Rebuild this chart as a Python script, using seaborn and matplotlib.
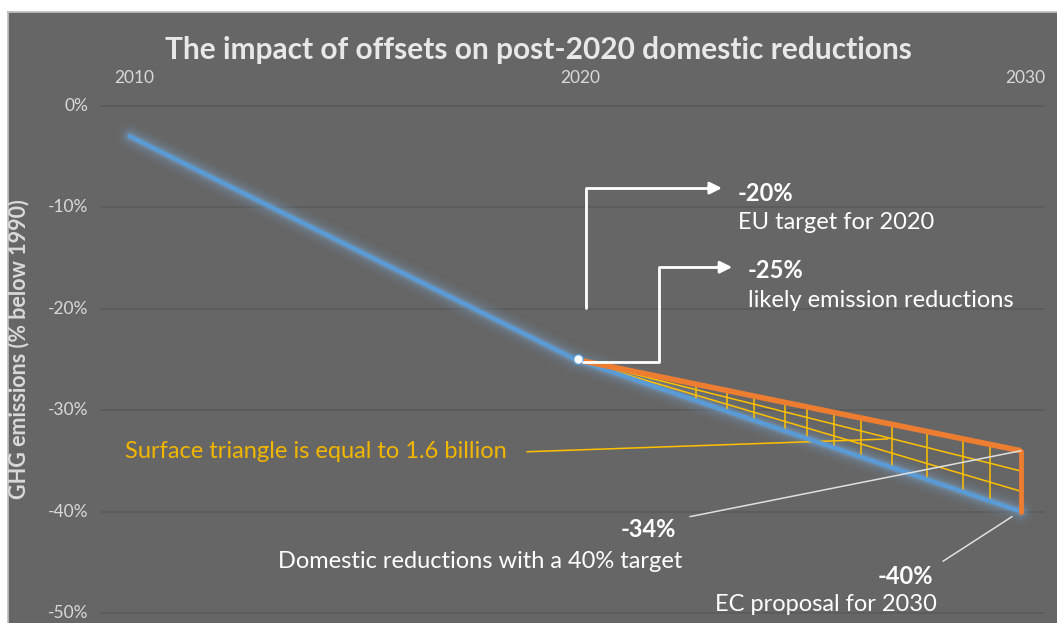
import matplotlib
matplotlib.use("Agg")
import matplotlib.pyplot as plt
import numpy as np
import pandas as pd
import seaborn as sns

# ---- data -------------------------------------------------------------
years = [2010, 2020, 2030]
emissions = [-3.0, -25.0, -40.0]          # GHG emissions, % below 1990
offset_years = [2020, 2030]
offset_path = [-25.0, -34.0]              # domestic reductions with offsets
y_ticks = [0, -10, -20, -30, -40, -50]
y_tick_labels = ["0%", "-10%", "-20%", "-30%", "-40%", "-50%"]
x_tick_labels = ["2010", "2020", "2030"]
hatch_years = [2022.7, 2023.4, 2024.0, 2024.7, 2025.2, 2025.8, 2026.4,
               2027.1, 2027.9, 2028.7, 2029.3]
fan_fractions = [1 / 3, 2 / 3]

# ---- style ------------------------------------------------------------
BG = "#666666"
GRID = "#5a5a5a"
TXT = "#e8e8e8"
TICK = "#d9d9d9"
BLUE = "#5b9bd5"
ORANGE = "#ed7d31"
YELLOW = "#ffc000"
NOTE = 17

sns.set_theme(style="dark")
plt.rcParams["font.family"] = ["Lato", "DejaVu Sans"]

fig = plt.figure(figsize=(10.57, 6.23), dpi=100, facecolor="white")
ax = fig.add_axes([8 / 1057, 0, 1049 / 1057, 611 / 623])
ax.set_facecolor(BG)
ax.set_xlim(2007.26, 2030.81)
ax.set_ylim(-50.99, 9.27)
ax.set_xticks([])
ax.set_yticks([])
for s in ax.spines.values():
    s.set_visible(False)
ax.spines["top"].set_visible(True)
ax.spines["top"].set_color("#bfbfbf")
ax.spines["left"].set_visible(True)
ax.spines["left"].set_color("#bfbfbf")

# gridlines and tick labels
ax.hlines(y_ticks, 2009.33, 2030.55, colors=GRID, lw=1.2, zorder=1)
for v, lab in zip(y_ticks, y_tick_labels):
    ax.text(2009.06, v, lab, ha="right", va="center", color=TICK, fontsize=12.5)
for yr, lab in zip(years, x_tick_labels):
    ax.text(yr + 0.1, 2.8, lab, ha="center", va="center", color=TICK, fontsize=12.5)

ax.text(2019.16, 5.5, "The impact of offsets on post-2020 domestic reductions",
        ha="center", va="center", color=TXT, fontsize=21.5, fontweight="bold")
ax.text(2007.5, -24.0, "GHG emissions (% below 1990)", rotation=90,
        ha="center", va="center", color=TICK, fontsize=15.5, fontweight="bold")

# hatched triangle between the two paths after 2020
def blue_at(x):
    return np.interp(x, years, emissions)

def orange_at(x):
    return np.interp(x, offset_years, offset_path)

for hx in hatch_years:
    ax.plot([hx, hx], [blue_at(hx), orange_at(hx)], color=YELLOW, lw=1.1, zorder=3)
for f in fan_fractions:
    yend = offset_path[1] + f * (emissions[2] - offset_path[1])
    ax.plot([2020, 2030], [offset_path[0], yend], color=YELLOW, lw=1.1, zorder=3)

# blue emissions path with soft glow
df = pd.DataFrame({"year": years, "emissions": emissions})
for w, a in [(18, 0.06), (13, 0.08), (9, 0.12), (6, 0.2)]:
    ax.plot(years, emissions, color="#7fb6e8", lw=w, alpha=a,
            solid_capstyle="round", zorder=2)
sns.lineplot(data=df, x="year", y="emissions", ax=ax, color=BLUE, lw=3.2,
             zorder=4, legend=False)

# orange offset path and closing edge
ax.plot(offset_years, offset_path, color=ORANGE, lw=4, zorder=5,
        solid_capstyle="butt")
ax.plot([2030, 2030], [offset_path[1], emissions[2]], color=ORANGE, lw=3.5,
        zorder=5)
ax.plot([2020.05], [emissions[1]], marker="o", ms=7, mfc="white", mec=BLUE,
        mew=1.0, zorder=6)

# elbow arrows from 2020
arrow_kw = dict(color="white", lw=2, zorder=6)
ax.plot([2020.24, 2020.24, 2023.0], [-19.9, -8.1, -8.1], **arrow_kw)
ax.annotate("", xy=(2023.35, -8.1), xytext=(2022.9, -8.1),
            arrowprops=dict(arrowstyle="-|>", color="white", lw=2,
                            mutation_scale=18))
ax.plot([2020.17, 2021.87, 2021.87, 2023.2], [-25.2, -25.2, -15.9, -15.9],
        **arrow_kw)
ax.annotate("", xy=(2023.58, -15.9), xytext=(2023.1, -15.9),
            arrowprops=dict(arrowstyle="-|>", color="white", lw=2,
                            mutation_scale=18))

ax.text(2023.65, -8.6, "-20%", color="white", fontsize=NOTE, fontweight="bold",
        ha="left", va="center")
ax.text(2023.65, -11.5, "EU target for 2020", color="white", fontsize=NOTE,
        ha="left", va="center")
ax.text(2023.87, -16.2, "-25%", color="white", fontsize=NOTE, fontweight="bold",
        ha="left", va="center")
ax.text(2023.87, -19.2, "likely emission reductions", color="white",
        fontsize=NOTE, ha="left", va="center")

# surface triangle note
ax.text(2009.89, -34.1, "Surface triangle is equal to 1.6 billion",
        color="#f2b600", fontsize=NOTE, ha="left", va="center")
ax.plot([2018.91, 2027.01], [-34.1, -32.84], color=YELLOW, lw=1.1, zorder=3)

# end-point call-outs
ax.plot([2022.57, 2030], [-40.5, offset_path[1]], color="#e0e0e0", lw=1.1,
        zorder=6)
ax.plot([2028.25, 2029.8], [-44.9, -40.5], color="#e0e0e0", lw=1.1, zorder=6)
ax.text(2022.26, -41.8, "-34%", color="white", fontsize=NOTE, fontweight="bold",
        ha="right", va="center")
ax.text(2017.86, -44.9, "Domestic reductions with a 40% target", color="white",
        fontsize=NOTE, ha="center", va="center")
ax.text(2027.4, -46.4, "-40%", color="white", fontsize=NOTE, fontweight="bold",
        ha="center", va="center")
ax.text(2025.62, -49.2, "EC proposal for 2030", color="white", fontsize=NOTE,
        ha="center", va="center")

fig.savefig("out.png", dpi=100, facecolor="white")
